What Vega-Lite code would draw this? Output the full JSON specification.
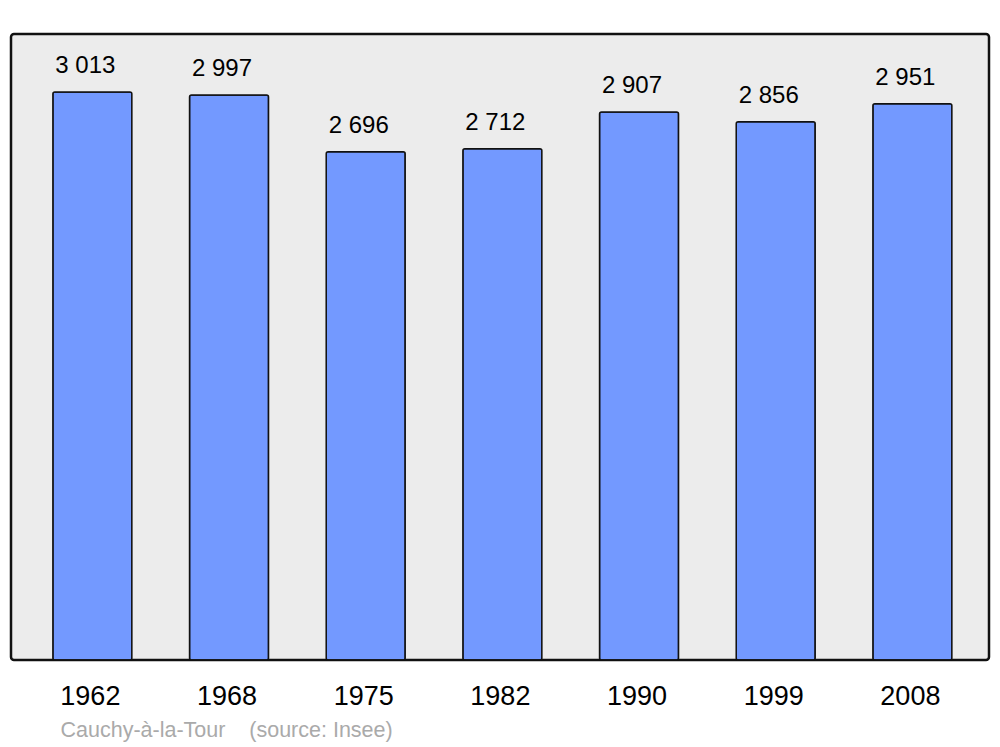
{
  "$schema": "https://vega.github.io/schema/vega-lite/v6.json",
  "width": 978,
  "height": 626,
  "autosize": {"type": "none"},
  "padding": {"left": 11, "top": 34, "right": 11, "bottom": 87},
  "background": "white",
  "config": {
    "font": "Liberation Sans",
    "view": {"fill": "#ececec", "stroke": "#111111", "strokeWidth": 2.5, "cornerRadius": 3}
  },
  "data": {
    "values": [
      {"year": "1962", "pop": 3013, "label": "3 013"},
      {"year": "1968", "pop": 2997, "label": "2 997"},
      {"year": "1975", "pop": 2696, "label": "2 696"},
      {"year": "1982", "pop": 2712, "label": "2 712"},
      {"year": "1990", "pop": 2907, "label": "2 907"},
      {"year": "1999", "pop": 2856, "label": "2 856"},
      {"year": "2008", "pop": 2951, "label": "2 951"}
    ]
  },
  "encoding": {
    "x": {
      "field": "year",
      "type": "ordinal",
      "sort": null,
      "scale": {"paddingInner": 0.422, "paddingOuter": 0.289, "align": 0.53},
      "axis": {
        "domain": false,
        "ticks": false,
        "labelAngle": 0,
        "labelFontSize": 27,
        "labelColor": "#000000",
        "labelPadding": 23,
        "labelOffset": -2,
        "title": "Cauchy-à-la-Tour\u00a0\u00a0\u00a0\u00a0(source: Insee)",
        "titleFontSize": 21.5,
        "titleFontWeight": "normal",
        "titleColor": "#aaaaaa",
        "titleAnchor": "start",
        "titleAlign": "left",
        "titleBaseline": "alphabetic",
        "titleX": 49,
        "titleY": 76
      }
    },
    "y": {
      "field": "pop",
      "type": "quantitative",
      "scale": {"domain": [0, 3321], "nice": false},
      "axis": null
    }
  },
  "layer": [
    {
      "mark": {"type": "bar", "color": "#7399ff", "stroke": "#111111", "strokeWidth": 1.5, "cornerRadius": 2}
    },
    {
      "mark": {"type": "text", "fontSize": 24, "baseline": "alphabetic", "dy": -19, "dx": -7, "color": "#000000"},
      "encoding": {"text": {"field": "label"}}
    }
  ]
}
